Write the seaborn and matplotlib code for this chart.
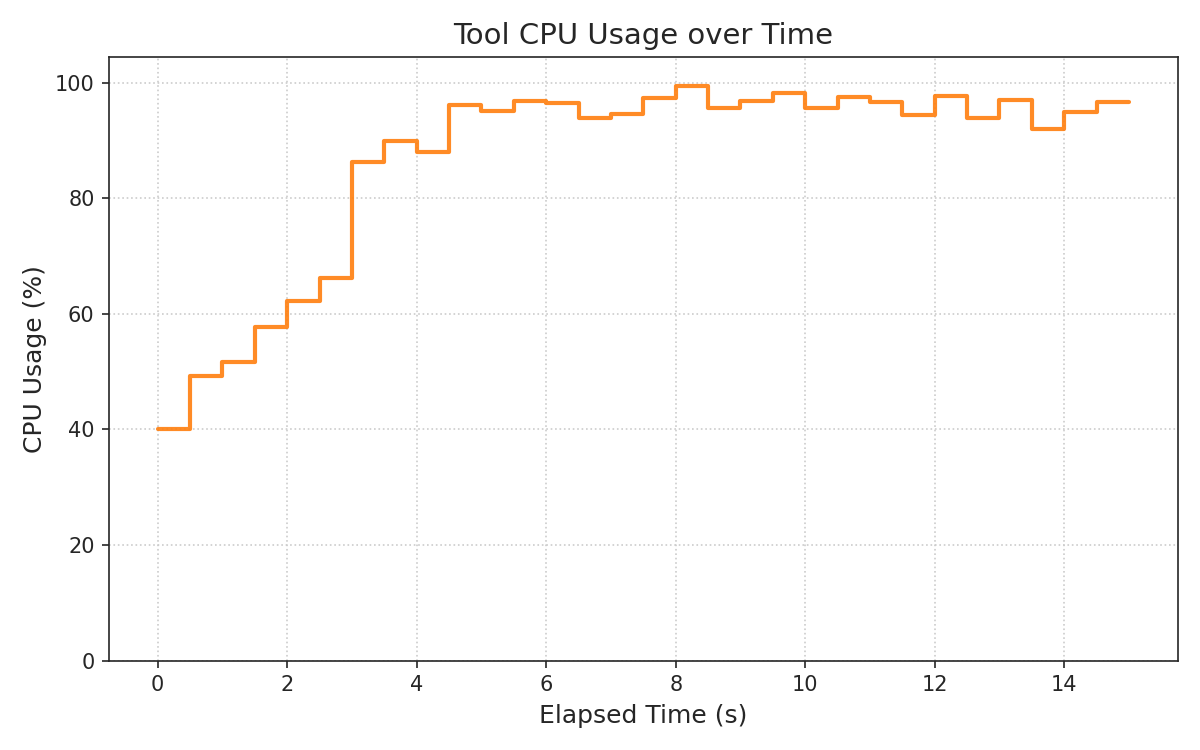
import matplotlib
matplotlib.use("Agg")
import matplotlib.pyplot as plt
import seaborn as sns
import pandas as pd

# sampled CPU usage every 0.5 s
elapsed_s = [0.0, 0.5, 1.0, 1.5, 2.0, 2.5, 3.0, 3.5, 4.0, 4.5, 5.0, 5.5, 6.0, 6.5,
             7.0, 7.5, 8.0, 8.5, 9.0, 9.5, 10.0, 10.5, 11.0, 11.5, 12.0, 12.5,
             13.0, 13.5, 14.0, 14.5, 15.0]
cpu_pct = [40.0, 49.3, 51.7, 57.8, 62.2, 66.3, 86.3, 89.9, 88.0, 96.2, 95.1, 96.9,
           96.5, 94.0, 94.6, 97.4, 99.5, 95.6, 96.9, 98.2, 95.7, 97.5, 96.6, 94.5,
           97.7, 94.0, 97.0, 92.0, 95.0, 96.7, 96.7]

df = pd.DataFrame({"Elapsed Time (s)": elapsed_s, "CPU Usage (%)": cpu_pct})

sns.set_style("ticks")
plt.rcParams['font.family'] = ['DejaVu Sans']

fig, ax = plt.subplots(figsize=(8, 5), dpi=150)
sns.lineplot(data=df, x="Elapsed Time (s)", y="CPU Usage (%)", ax=ax,
             drawstyle="steps-post", color="#ff7f0e", alpha=0.9, linewidth=2)

ax.set_ylim(0, max(cpu_pct) * 1.05)
ax.set_title("Tool CPU Usage over Time", fontsize=14)
ax.set_xlabel("Elapsed Time (s)", fontsize=12)
ax.set_ylabel("CPU Usage (%)", fontsize=12)
ax.grid(True, linestyle=":", color="#cccccc", linewidth=0.8)
ax.tick_params(labelsize=10)

fig.tight_layout()
fig.savefig("out.png", dpi=150)
